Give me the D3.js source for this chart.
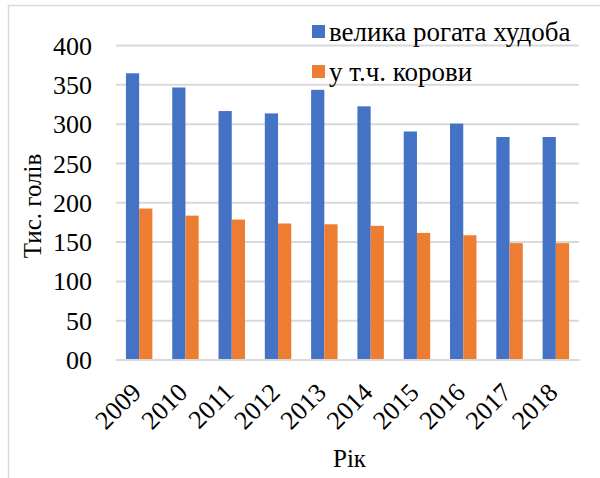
<!DOCTYPE html>
<html><head><meta charset="utf-8">
<script src="https://cdn.jsdelivr.net/npm/d3@7"></script>
<style>body{margin:0;background:#fff}svg{display:block}</style>
</head><body><svg id="c" width="600" height="478"></svg>
<script>
const years = ["2009","2010","2011","2012","2013","2014","2015","2016","2017","2018"];
const cattle = [364, 346, 316, 313, 343, 322, 290, 300, 283, 283];
const cows = [192, 183, 178, 173, 172, 170, 161, 158, 148, 148];
const seriesNames = ["велика рогата худоба", "у т.ч. корови"];
const seriesColors = ["#4472C4", "#ED7D31"];
const yTicks = [0, 50, 100, 150, 200, 250, 300, 350, 400];
const yTickLabels = ["00", "50", "100", "150", "200", "250", "300", "350", "400"];

const svg = d3.select("#c");
const font = "Liberation Serif";
const L = 116, R = 579, T = 45, B = 359.5;

svg.append("rect").attr("x", 8.5).attr("y", 5.5).attr("width", 700).attr("height", 600)
  .attr("fill", "none").attr("stroke", "#d9d9d9").attr("stroke-width", 1.5);

const x = d3.scaleBand().domain(years).range([L, R]).paddingInner(1.5/3.5).paddingOuter(0.75/3.5);
const y = d3.scaleLinear().domain([0, 400]).range([B, T]);

const yAxis = d3.axisLeft(y).tickValues(yTicks).tickSize(-(R - L)).tickFormat((d, i) => yTickLabels[i]);
const gy = svg.append("g").attr("transform", `translate(${L},0)`).call(yAxis)
  .attr("font-family", font).attr("font-size", 26);
gy.select(".domain").remove();
gy.selectAll(".tick line").attr("stroke", "#d9d9d9").attr("stroke-width", 2);
gy.selectAll(".tick text").attr("x", -24).attr("dy", "0.35em").attr("fill", "#000");

const data = years.map((yr, i) => ({yr, vals: [cattle[i], cows[i]]}));
const sub = d3.scaleBand().domain([0, 1]).range([0, x.bandwidth()]);
const g = svg.append("g");
data.forEach(d => {
  d.vals.forEach((v, j) => {
    g.append("rect").attr("x", x(d.yr) + sub(j)).attr("y", y(v))
      .attr("width", sub.bandwidth()).attr("height", y(0) - y(v))
      .attr("fill", seriesColors[j]);
  });
});

const xAxis = d3.axisBottom(x).tickSize(0);
const gx = svg.append("g").attr("transform", `translate(0,${B})`).call(xAxis)
  .attr("font-family", font).attr("font-size", 26);
gx.select(".domain").attr("stroke", "#d9d9d9").attr("stroke-width", 2);
gx.selectAll(".tick text")
  .attr("transform", "translate(-3,28) rotate(-45)")
  .attr("x", 0).attr("y", 0).attr("dy", "0.35em")
  .attr("text-anchor", "end").attr("fill", "#000");

svg.append("text").attr("transform", `translate(41,206) rotate(-90)`)
  .attr("text-anchor", "middle").attr("font-family", font).attr("font-size", 25).text("Тис. голів");
svg.append("text").attr("x", (L + R) / 2 + 2).attr("y", 467)
  .attr("text-anchor", "middle").attr("font-family", font).attr("font-size", 25).text("Рік");

const lg = svg.append("g");
seriesNames.forEach((n, i) => {
  const yy = 25 + i * 40;
  lg.append("rect").attr("x", 312).attr("y", yy).attr("width", 13).attr("height", 13).attr("fill", seriesColors[i]);
  lg.append("text").attr("x", 329).attr("y", yy + 15.5).attr("font-family", font)
    .attr("font-size", 27).text(n);
});
</script></body></html>
